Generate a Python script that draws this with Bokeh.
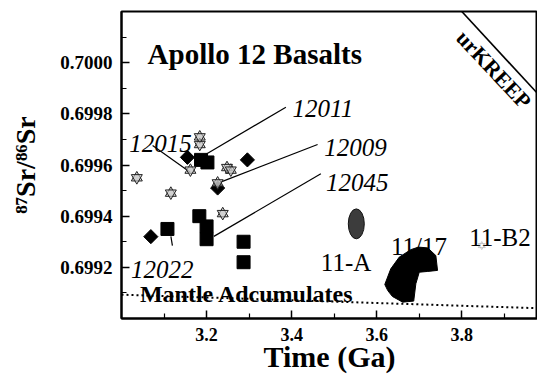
import numpy as np
from bokeh.plotting import figure
from bokeh.models import Range1d, FixedTicker, PrintfTickFormatter, Label
from bokeh.embed import file_html
from bokeh.resources import INLINE

# ---------------- data (Time in Ga, 87Sr/86Sr) ----------------
star_t = [3.036, 3.116, 3.184, 3.184, 3.162, 3.248, 3.257, 3.226, 3.238]
star_sr = [0.69955, 0.69949, 0.69971, 0.69968, 0.69958, 0.69959, 0.69958, 0.69953, 0.69941]

diamond_t = [3.069, 3.155, 3.296, 3.226]
diamond_sr = [0.69932, 0.69963, 0.69962, 0.69951]

square_t = [3.108, 3.183, 3.200, 3.200, 3.287, 3.287, 3.187, 3.202]
square_sr = [0.69935, 0.69940, 0.69936, 0.69931, 0.69930, 0.69922, 0.69962, 0.69961]

a11_t = [3.552]
a11_sr = [0.69937]
a11_w = [0.0376]
a11_h = [0.000117]

b2_t = [3.847]
b2_sr = [0.699285]

r1117_t = [3.619, 3.633, 3.653, 3.680, 3.698, 3.720, 3.739, 3.743, 3.720, 3.700,
           3.692, 3.687, 3.661, 3.637, 3.626]
r1117_sr = [0.699133, 0.699194, 0.699240, 0.699269, 0.699279, 0.699276, 0.699246,
            0.699188, 0.699184, 0.699181, 0.699136, 0.699068, 0.699064, 0.699086, 0.699109]

mantle_t = [3.0, 4.0]
mantle_sr = [0.699093, 0.699039]

kreep_t = [3.80, 4.00]
kreep_sr = [0.70020, 0.69984]

x_major = [3.2, 3.4, 3.6, 3.8]
x_minor = [3.1, 3.3, 3.5, 3.7, 3.9]
y_major = [0.6992, 0.6994, 0.6996, 0.6998, 0.7000]
y_minor = [0.6991, 0.6993, 0.6995, 0.6997, 0.6999, 0.7001]

# sample labels and leader lines
sample_names = ["12011", "12009", "12045", "12015", "12022"]
sample_lx = [3.4022, 3.4765, 3.4805, 3.0181, 3.0221]
sample_ly = [0.699820, 0.699670, 0.699533, 0.699683, 0.699190]
lead_x0 = [3.3865, 3.4610, 3.4687, 3.0731, 3.1161]
lead_y0 = [0.699826, 0.699680, 0.699566, 0.699676, 0.699321]
lead_x1 = [3.1937, 3.2313, 3.2172, 3.1615, 3.1197]
lead_y1 = [0.699637, 0.699532, 0.699321, 0.699572, 0.699285]

SERIF = "Liberation Serif"

p = figure(width=537, height=380, output_backend="svg", toolbar_location=None,
           x_range=Range1d(3.0, 3.978), y_range=Range1d(0.6990, 0.7002),
           min_border_left=121, min_border_right=0, min_border_top=11,
           min_border_bottom=62)
p.grid.visible = False
p.outline_line_color = "black"
p.outline_line_width = 2
p.background_fill_color = "white"
p.border_fill_color = "white"

for ax in (p.xaxis[0], p.yaxis[0]):
    ax.axis_line_width = 2
    ax.axis_line_color = "black"
    ax.major_tick_in = 8
    ax.major_tick_out = 0
    ax.minor_tick_in = 5
    ax.minor_tick_out = 0
    ax.major_tick_line_width = 1.5
    ax.minor_tick_line_width = 1.2
    ax.major_label_text_font = SERIF
    ax.major_label_text_font_style = "bold"
    ax.major_label_text_color = "black"
    ax.axis_label_text_font = SERIF
    ax.axis_label_text_font_style = "bold"
    ax.axis_label_text_color = "black"

p.xaxis.ticker = FixedTicker(ticks=x_major, minor_ticks=x_minor)
p.yaxis.ticker = FixedTicker(ticks=y_major, minor_ticks=y_minor)
p.xaxis.formatter = PrintfTickFormatter(format="%.1f")
p.yaxis.formatter = PrintfTickFormatter(format="%.4f")
p.xaxis.major_label_text_font_size = "18px"
p.yaxis.major_label_text_font_size = "19px"
p.xaxis.major_label_standoff = 9
p.yaxis.major_label_standoff = 9

p.xaxis.axis_label = "Time (Ga)"
p.xaxis.axis_label_text_font_size = "30px"
p.xaxis.axis_label_standoff = -4
p.yaxis.axis_label = "\u2078\u2077Sr/\u2078\u2076Sr"
p.yaxis.axis_label_text_font_size = "28px"
p.yaxis.axis_label_standoff = 16

# lines
p.line(mantle_t, mantle_sr, line_color="black", line_width=2, line_dash="2 3")
p.line(kreep_t, kreep_sr, line_color="black", line_width=1.6)
p.segment(lead_x0, lead_y0, lead_x1, lead_y1, line_color="black", line_width=1.2)

# 11/17 field and 11-A field
p.patch(r1117_t, r1117_sr, fill_color="black", line_color="black")
p.ellipse(a11_t, a11_sr, width=a11_w, height=a11_h, fill_color="#3c3c3c",
          line_color="#111111", line_width=1)

# symbols
p.scatter(square_t, square_sr, marker="square", size=13, fill_color="black",
          line_color="black")
p.scatter(diamond_t, diamond_sr, marker="square", size=10, angle=np.pi / 4,
          fill_color="black", line_color="black")
for mk in ("triangle", "inverted_triangle"):
    p.scatter(star_t, star_sr, marker=mk, size=11, fill_color="#c8c8c8",
              fill_alpha=0.6, line_color="#222222", line_width=1)
    p.scatter(b2_t, b2_sr, marker=mk, size=7, fill_alpha=0,
              line_color="#bbbbbb", line_width=0.8)

def lab(x, y, text, size, style="normal", align="left", baseline="alphabetic", angle=0.0):
    p.add_layout(Label(x=x, y=y, text=text, text_font=SERIF, text_font_size=size,
                       text_font_style=style, text_align=align,
                       text_baseline=baseline, angle=angle, text_color="black"))

lab(3.0614, 0.700035, "Apollo 12 Basalts", "29px", "bold")
for name, lx, ly in zip(sample_names, sample_lx, sample_ly):
    lab(lx, ly, name, "25px", "italic")
lab(3.0433, 0.699097, "Mantle Adcumulates", "24px", "bold")
lab(3.4687, 0.699218, "11-A", "25px")
lab(3.6333, 0.699281, "11/17", "25px")
lab(3.8174, 0.699318, "11-B2", "25px")
lab(3.8754, 0.699973, "urKREEP", "22px", "bold", "center", "middle", -0.82)

open("out.html", "w").write(file_html(p, INLINE))
